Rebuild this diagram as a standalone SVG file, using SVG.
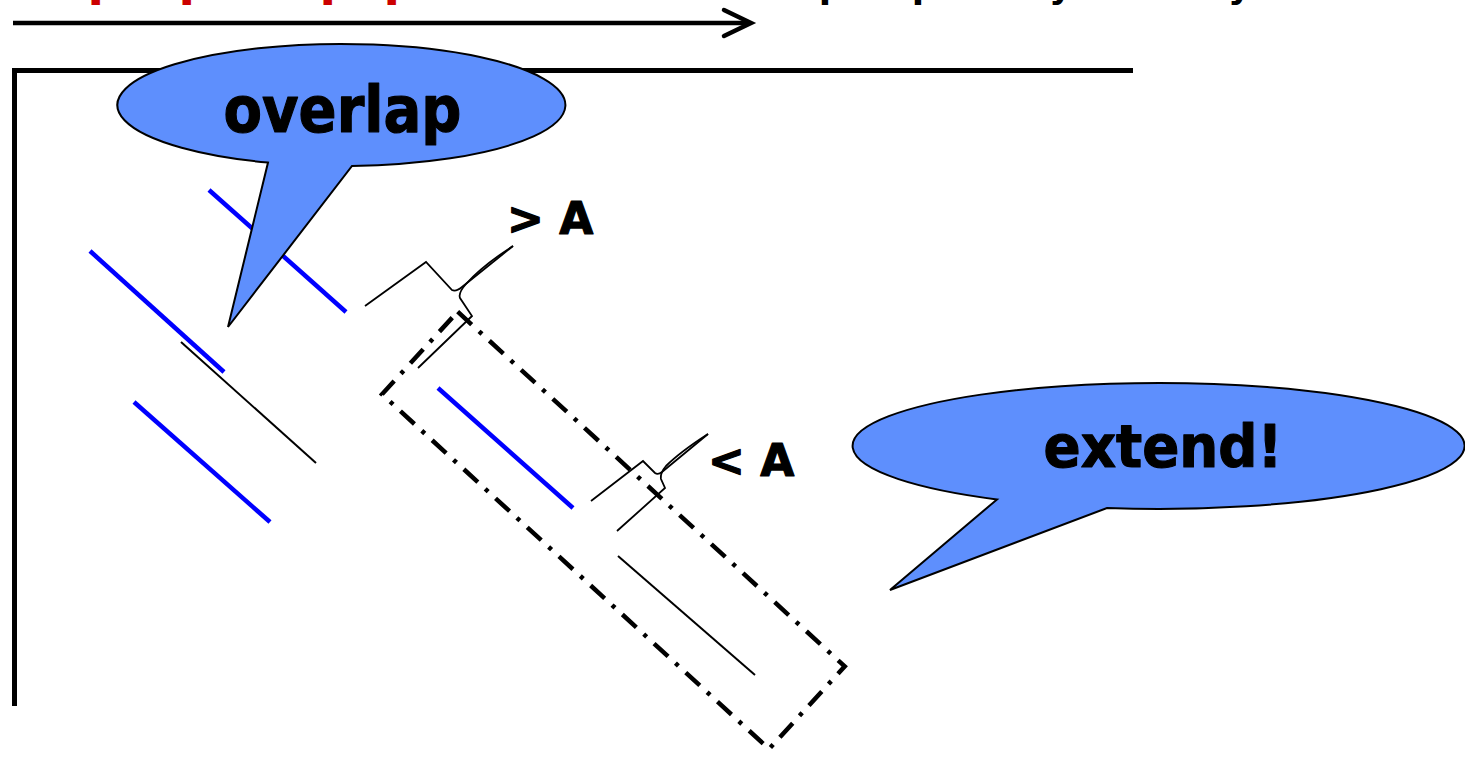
<svg xmlns="http://www.w3.org/2000/svg" width="1465" height="760" viewBox="0 0 1465 760">
  <style>
    .bold { font-family: "DejaVu Sans", "Liberation Sans", sans-serif; font-weight: bold; }
    .heavy { stroke: #000; stroke-width: 1.2; stroke-linejoin: round; }
    .callout { fill: #5e8ffd; stroke: #000; stroke-width: 2; stroke-linejoin: miter; }
    .seg { stroke: #0000ff; stroke-width: 4.5; fill: none; }
    .thin { stroke: #000; stroke-width: 2; fill: none; }
    .lead { stroke: #000; stroke-width: 1.8; fill: none; stroke-linejoin: miter; }
    .dashdot { fill: none; stroke: #000; stroke-width: 4.5; stroke-dasharray: 19 10 4 10; }
  </style>

  <rect x="0" y="0" width="1465" height="760" fill="#fff"/>

  <!-- clipped title text at top edge -->
  <g id="title-clipped">
    <text class="bold" x="87.6 178.6 319.6 383.6" y="-5.5" font-size="48" fill="#cc0000">pppp</text>
    <text class="bold" x="818.7 911.7 1049 1228" y="-2" font-size="36" fill="#000">ppyy</text>
  </g>

  <!-- top arrow -->
  <g id="top-arrow" stroke="#000" stroke-width="4.5" fill="none">
    <line x1="13" y1="23" x2="750" y2="23"/>
    <polyline points="724,10 751,23 724,36" stroke-linejoin="miter" stroke-linecap="round"/>
  </g>

  <!-- frame -->
  <g id="frame">
    <path d="M14.5,706 V70.5 H1133" fill="none" stroke="#000" stroke-width="5" stroke-linejoin="miter"/>
  </g>

  <!-- segments -->
  <g id="segments">
    <line class="seg" x1="209" y1="190" x2="346" y2="312"/>
    <line class="seg" x1="90" y1="251" x2="224" y2="372"/>
    <line class="seg" x1="134" y1="402" x2="270" y2="522"/>
    <line class="seg" x1="438" y1="388" x2="573" y2="508"/>
    <line class="thin" x1="181" y1="342" x2="316" y2="463"/>
    <line class="thin" x1="618" y1="556" x2="755" y2="675"/>
  </g>

  <!-- dash-dot region -->
  <g id="region">
    <rect class="dashdot" x="-262" y="-56" width="525" height="112" transform="translate(613,530) rotate(42.5)"/>
  </g>

  <!-- connectors: measurement leaders -->
  <g id="connectors">
    <path class="lead" d="M365,306 L426,262 L452,290 Q456,292 462,287 L513,246"/>
    <path class="lead" d="M513,246 Q482,266 466,284 Q458,293 460,298 L472,316 L418,368"/>
    <path class="lead" d="M591,501 L643,461 L655,473 Q658,475 662,472 L708,434"/>
    <path class="lead" d="M708,434 Q680,452 666,466 Q660,473 661,479 L665,488 L617,531"/>
  </g>

  <!-- labels -->
  <g id="label-gtA">
    <text class="bold heavy" x="507" y="234" font-size="44" fill="#000">&gt; A</text>
  </g>
  <g id="label-ltA">
    <text class="bold heavy" x="708" y="476" font-size="44" fill="#000">&lt; A</text>
  </g>

  <!-- overlap callout -->
  <g id="callout-overlap">
    <path class="callout" d="M268,162.6 A224,61 0 1 1 352,165.9 L228,327 Z"/>
    <text class="bold heavy" x="342.5" y="132" font-size="64" text-anchor="middle" textLength="238" lengthAdjust="spacingAndGlyphs">overlap</text>
  </g>

  <!-- extend callout -->
  <g id="callout-extend">
    <path class="callout" d="M997,499.4 A306,63 0 1 1 1107,508 L890,590 Z"/>
    <text class="bold heavy" x="1163" y="467" font-size="58" text-anchor="middle" textLength="239" lengthAdjust="spacingAndGlyphs">extend!</text>
  </g>
</svg>
